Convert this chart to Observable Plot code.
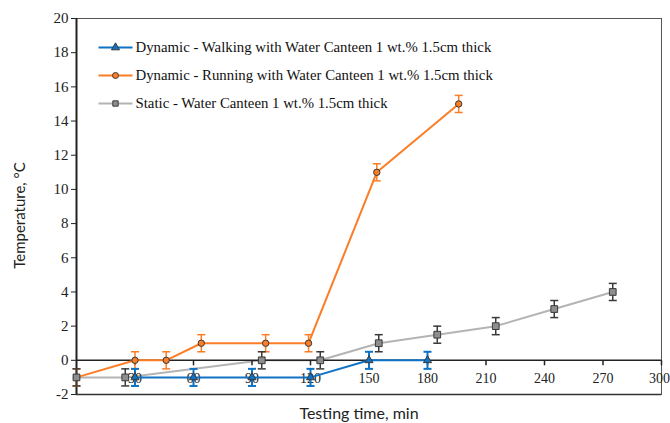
<!DOCTYPE html>
<html>
<head>
<meta charset="utf-8">
<script src="https://cdn.jsdelivr.net/npm/d3@7"></script>
<script src="https://cdn.jsdelivr.net/npm/@observablehq/plot@0.6"></script>
<style>
  html, body { margin: 0; padding: 0; background: #fff; }
  #chart { width: 670px; height: 423px; }
  #chart svg text.serif, #chart svg g.serif text { font-family: "Liberation Serif", "Times New Roman", Times, "DejaVu Serif", serif; }
</style>
</head>
<body>
<div id="chart"></div>
<script>
// ---- data ----
const walkTime = [30, 60, 90, 120, 150, 180];
const walkTemp = [-1, -1, -1, -1, 0, 0];
const runTime = [0, 30, 46, 64, 97, 119, 154, 196];
const runTemp = [-1, 0, 0, 1, 1, 1, 11, 15];
const staticTime = [0, 25, 95, 125, 155, 185, 215, 245, 275];
const staticTemp = [-1, -1, 0, 0, 1, 1.5, 2, 3, 4];
const errHalf = 0.5;
const seriesNames = [
  "Dynamic - Walking with Water Canteen 1 wt.% 1.5cm thick",
  "Dynamic - Running with Water Canteen 1 wt.% 1.5cm thick",
  "Static - Water Canteen 1 wt.% 1.5cm thick"
];
const xTicks = [30, 60, 90, 120, 150, 180, 210, 240, 270];
const xTickLast = [300];
const yTicks = [-2, 0, 2, 4, 6, 8, 10, 12, 14, 16, 18, 20];
const xLabel = "Testing time, min";
const yLabel = "Temperature, °C";

// ---- build tables ----
const toRows = (t, v) => t.map((x, i) => ({x, y: v[i]}));
const walk = toRows(walkTime, walkTemp);
const run = toRows(runTime, runTemp);
const stat = toRows(staticTime, staticTemp);

const BLUE = "#0f72c4", ORANGE = "#fb7d26", GRAY = "#b4b4b4", DARK = "#3a3a3a";
const SERIF = "Liberation Serif, Times New Roman, DejaVu Serif, serif";
const SANS = "Lato, Open Sans, sans-serif";

// custom symbols
const hcap = {draw(ctx, size) { const w = Math.sqrt(size / Math.PI); ctx.moveTo(-w, 0); ctx.lineTo(w, 0); }};
const vtick = {draw(ctx, size) { const w = Math.sqrt(size / Math.PI); ctx.moveTo(0, 0); ctx.lineTo(0, w); }};

function errorMarks(rows, color, width) {
  return [
    Plot.ruleX(rows, {x: "x", y1: d => d.y - errHalf, y2: d => d.y + errHalf, stroke: color, strokeWidth: width}),
    Plot.dot(rows, {x: "x", y: d => d.y - errHalf, symbol: hcap, r: 4, stroke: color, strokeWidth: width, fill: "none"}),
    Plot.dot(rows, {x: "x", y: d => d.y + errHalf, symbol: hcap, r: 4, stroke: color, strokeWidth: width, fill: "none"})
  ];
}

const legendRows = [
  {name: seriesNames[0], color: BLUE, sym: "triangle", fill: BLUE, r: 3, dy: 29},
  {name: seriesNames[1], color: ORANGE, sym: "circle", fill: ORANGE, r: 3, dy: 57},
  {name: seriesNames[2], color: GRAY, sym: "square", fill: "#8e8e8e", r: 3, dy: 85}
];

const legendMarks = legendRows.flatMap(L => [
  Plot.dot([L], {frameAnchor: "top-left", dx: 39, dy: L.dy, symbol: hcap, r: 17, stroke: L.color, strokeWidth: 2}),
  Plot.dot([L], {frameAnchor: "top-left", dx: 39, dy: L.dy, symbol: L.sym, r: L.r, fill: L.fill, stroke: DARK, strokeWidth: 1}),
  Plot.text([L], {frameAnchor: "top-left", dx: 59, dy: L.dy, text: "name", textAnchor: "start", lineAnchor: "middle", fontSize: 14.8, fontFamily: SERIF, fill: "#111", className: "serif"})
]);

const chart = Plot.plot({
  width: 670,
  height: 423,
  marginLeft: 76,
  marginRight: 9,
  marginTop: 18,
  marginBottom: 29,
  style: {fontSize: "15px", background: "#fff", color: "#222"},
  x: {domain: [0, 300], axis: null},
  y: {domain: [-2, 20], axis: null},
  marks: [
    Plot.frame({stroke: "#555", strokeWidth: 1}),
    Plot.ruleY([-2], {stroke: "#333", strokeWidth: 1.5}),
    Plot.axisY({ticks: yTicks, tickSize: 5, tickPadding: 3, tickFormat: d => String(d), fontSize: 15, fontFamily: SERIF, label: null, stroke: "#222", fill: "#222", className: "serif"}),
    Plot.ruleX([0], {stroke: "#222", strokeWidth: 2}),
    // static line
    Plot.line(stat, {x: "x", y: "y", stroke: GRAY, strokeWidth: 2}),
    // zero line with ticks
    Plot.ruleY([0], {stroke: "#222", strokeWidth: 1.5}),
    Plot.dot(xTicks.concat(xTickLast), {x: d => d, y: 0, symbol: vtick, r: 5, stroke: "#222", strokeWidth: 1.5}),
    Plot.text(xTicks, {x: d => d, y: 0, dy: 18, text: d => String(d), fontSize: 14, fontFamily: SERIF, fill: "#222", className: "serif"}),
    Plot.text(xTickLast, {x: d => d, y: 0, dy: 18, dx: -2, text: d => String(d), fontSize: 14, fontFamily: SERIF, fill: "#222", className: "serif"}),
    // running
    Plot.line(run, {x: "x", y: "y", stroke: ORANGE, strokeWidth: 2}),
    ...errorMarks(run, ORANGE, 1.5),
    Plot.dot(run, {x: "x", y: "y", symbol: "circle", r: 3.2, fill: ORANGE, stroke: DARK, strokeWidth: 1}),
    // walking
    Plot.line(walk, {x: "x", y: "y", stroke: BLUE, strokeWidth: 2}),
    ...errorMarks(walk, BLUE, 2),
    Plot.dot(walk, {x: "x", y: "y", symbol: "triangle", r: 3, fill: BLUE, stroke: DARK, strokeWidth: 1}),
    // static error bars & markers on top
    ...errorMarks(stat, DARK, 1.5),
    Plot.dot(stat, {x: "x", y: "y", symbol: "square", r: 3.8, fill: "#8e8e8e", stroke: DARK, strokeWidth: 1}),
    // axis labels
    Plot.text([yLabel], {frameAnchor: "left", dx: -56, dy: 9, rotate: -90, textAnchor: "middle", lineAnchor: "middle", text: d => d, fontFamily: SANS, fontSize: 15, fill: "#222"}),
    Plot.text([xLabel], {frameAnchor: "bottom", dx: -10, dy: 19, textAnchor: "middle", lineAnchor: "middle", text: d => d, fontFamily: SANS, fontSize: 16, fill: "#222"}),
    ...legendMarks
  ]
});
document.getElementById("chart").appendChild(chart);
</script>
</body>
</html>
